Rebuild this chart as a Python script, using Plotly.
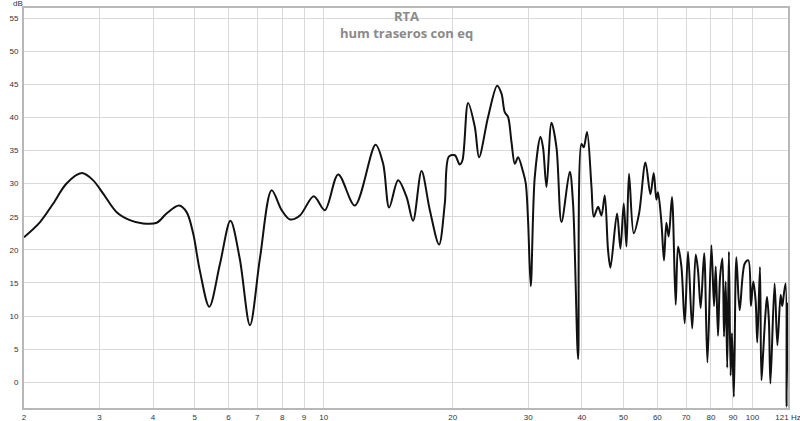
import plotly.graph_objects as go

freq_hz = [2.00, 2.18, 2.34, 2.51, 2.73, 2.90, 3.06, 3.29, 3.53, 3.79, 4.08, 4.30, 4.60, 4.79, 4.96,
           5.14, 5.41, 5.73, 6.06, 6.37, 6.73, 7.10, 7.56, 7.98, 8.34, 8.80, 9.48, 10.06, 10.81, 11.82,
           13.21, 13.76, 14.21, 14.91, 15.60, 16.16, 16.91, 17.68, 18.58, 19.16, 19.58, 20.22, 20.76,
           21.06, 21.71, 22.51, 23.03, 24.18, 25.38, 25.98, 26.44, 26.91, 27.41, 27.91, 28.40, 29.17,
           29.60, 29.96, 30.40, 31.06, 32.02, 32.47, 33.08, 33.98, 34.90, 35.85, 37.48, 38.15, 39.20,
           39.91, 40.40, 41.13, 42.12, 42.65, 43.64, 44.44, 45.23, 46.03, 46.63, 48.31, 49.20, 50.09,
           50.82, 51.52, 52.84, 54.38, 56.28, 57.80, 58.83, 59.68, 60.20, 61.31, 62.17, 62.97, 63.76,
           64.90, 66.20, 67.03, 68.26, 69.49, 70.73, 72.34, 73.71, 74.63, 75.71, 77.14, 78.50, 80.19,
           81.33, 82.08, 83.09, 84.00, 85.09, 85.82, 86.61, 87.31, 88.10, 88.92, 89.56, 90.47, 91.69,
           93.33, 95.88, 97.80, 99.16, 100.4, 101.7, 102.6, 104.1, 104.9, 105.9, 107.1, 108.1, 109.2,
           110.1, 112.6, 114.3, 116.3, 117.3, 118.4, 119.5, 120.1, 120.8]

level_db = [21.9, 24.2, 27.0, 30.0, 31.6, 30.5, 28.5, 25.7, 24.5, 24.0, 24.1, 25.5, 26.7, 25.7, 22.5,
            16.9, 11.4, 17.9, 24.4, 18.7, 8.6, 18.7, 29.0, 26.0, 24.6, 25.2, 28.1, 26.0, 31.4, 26.7,
            35.9, 33.0, 26.4, 30.5, 28.0, 24.4, 31.9, 26.0, 20.8, 27.0, 34.1, 34.3, 32.9,
            33.5, 42.2, 38.6, 34.0, 40.1, 44.8, 43.6, 40.8, 40.1, 36.3, 33.0, 34.0, 31.8,
            30.0, 24.5, 14.5, 31.0, 37.1, 35.5, 29.5, 39.2, 35.5, 24.2, 31.8, 27.0, 3.5,
            36.0, 35.5, 37.8, 29.5, 25.0, 26.5, 25.2, 28.2, 20.0, 17.3, 25.5, 20.2, 27.0,
            20.5, 31.5, 22.5, 25.5, 33.2, 28.4, 31.6, 27.6, 28.7, 24.2, 18.4, 24.1, 22.0,
            28.0, 11.7, 20.5, 17.5, 8.9, 19.7, 8.1, 19.3, 16.9, 11.2, 19.5, 3.0, 20.7,
            11.5, 17.5, 7.0, 15.8, 18.7, 6.9, 15.2, 2.2, 19.7, 1.0, 7.4, -2.2, 18.9,
            10.9, 17.9, 18.4, 11.5, 15.2, 12.3, 6.0, 17.4, 0.3, 4.5, 9.9, 12.9, 9.3,
            -0.2, 14.9, 5.6, 13.2, 11.5, 13.4, 14.9, -3.7, 12.0]

x_tick_vals = [2, 3, 4, 5, 6, 7, 8, 9, 10, 20, 30, 40, 50, 60, 70, 80, 90, 100, 121]
x_tick_text = ["2", "3", "4", "5", "6", "7", "8", "9", "10", "20", "30", "40", "50", "60", "70",
               "80", "90", "100", "121 Hz"]
y_tick_vals = [0, 5, 10, 15, 20, 25, 30, 35, 40, 45, 50, 55]

title_text = "RTA"
subtitle_text = "hum traseros con eq"
y_unit = "dB"

fig = go.Figure()
fig.add_trace(go.Scatter(
    x=freq_hz, y=level_db, mode="lines",
    line=dict(color="#111111", width=2, shape="spline", smoothing=0.9),
    showlegend=False, hoverinfo="x+y",
))

tick_font = dict(family="Liberation Sans, Arial, sans-serif", size=8, color="#333333")
title_font = dict(family="Open Sans, sans-serif", size=13, color="#8a8a8a", weight="bold")

fig.update_layout(
    width=800, height=421,
    margin=dict(l=24, r=12, t=8, b=13, autoexpand=False),
    paper_bgcolor="white", plot_bgcolor="white",
    xaxis=dict(
        type="log", range=[0.30103, 2.08279], automargin=False,
        tickmode="array", tickvals=x_tick_vals, ticktext=x_tick_text,
        showgrid=True, gridcolor="#d9d9d9", gridwidth=1,
        showline=True, linecolor="#b8b8b8", linewidth=2, mirror=True,
        ticks="", tickfont=tick_font, zeroline=False, ticklabeloverflow="allow",
    ),
    yaxis=dict(
        range=[-3.9, 56.55], automargin=False,
        tickmode="array", tickvals=y_tick_vals,
        showgrid=True, gridcolor="#d9d9d9", gridwidth=1,
        showline=True, linecolor="#b8b8b8", linewidth=2, mirror=True,
        ticks="", tickfont=tick_font, zeroline=False, ticklabelstandoff=2,
        ticklabeloverflow="allow",
    ),
)

plot_h = 421 - 8 - 13
def paper_y(px_from_top):
    return 1 + (8 - px_from_top) / plot_h

fig.add_annotation(text=title_text, x=0.5, y=paper_y(16.5), xref="paper", yref="paper",
                   showarrow=False, xanchor="center", yanchor="middle", font=title_font)
fig.add_annotation(text=subtitle_text, x=0.5, y=paper_y(33), xref="paper", yref="paper",
                   showarrow=False, xanchor="center", yanchor="middle", font=title_font)
fig.add_annotation(text=y_unit, x=-6 / 764, y=paper_y(4), xref="paper", yref="paper",
                   showarrow=False, xanchor="center", yanchor="middle", font=tick_font)

fig.write_html("out.html", config={"displayModeBar": False},
               post_script="document.body.style.margin='0';document.body.style.padding='0';")
